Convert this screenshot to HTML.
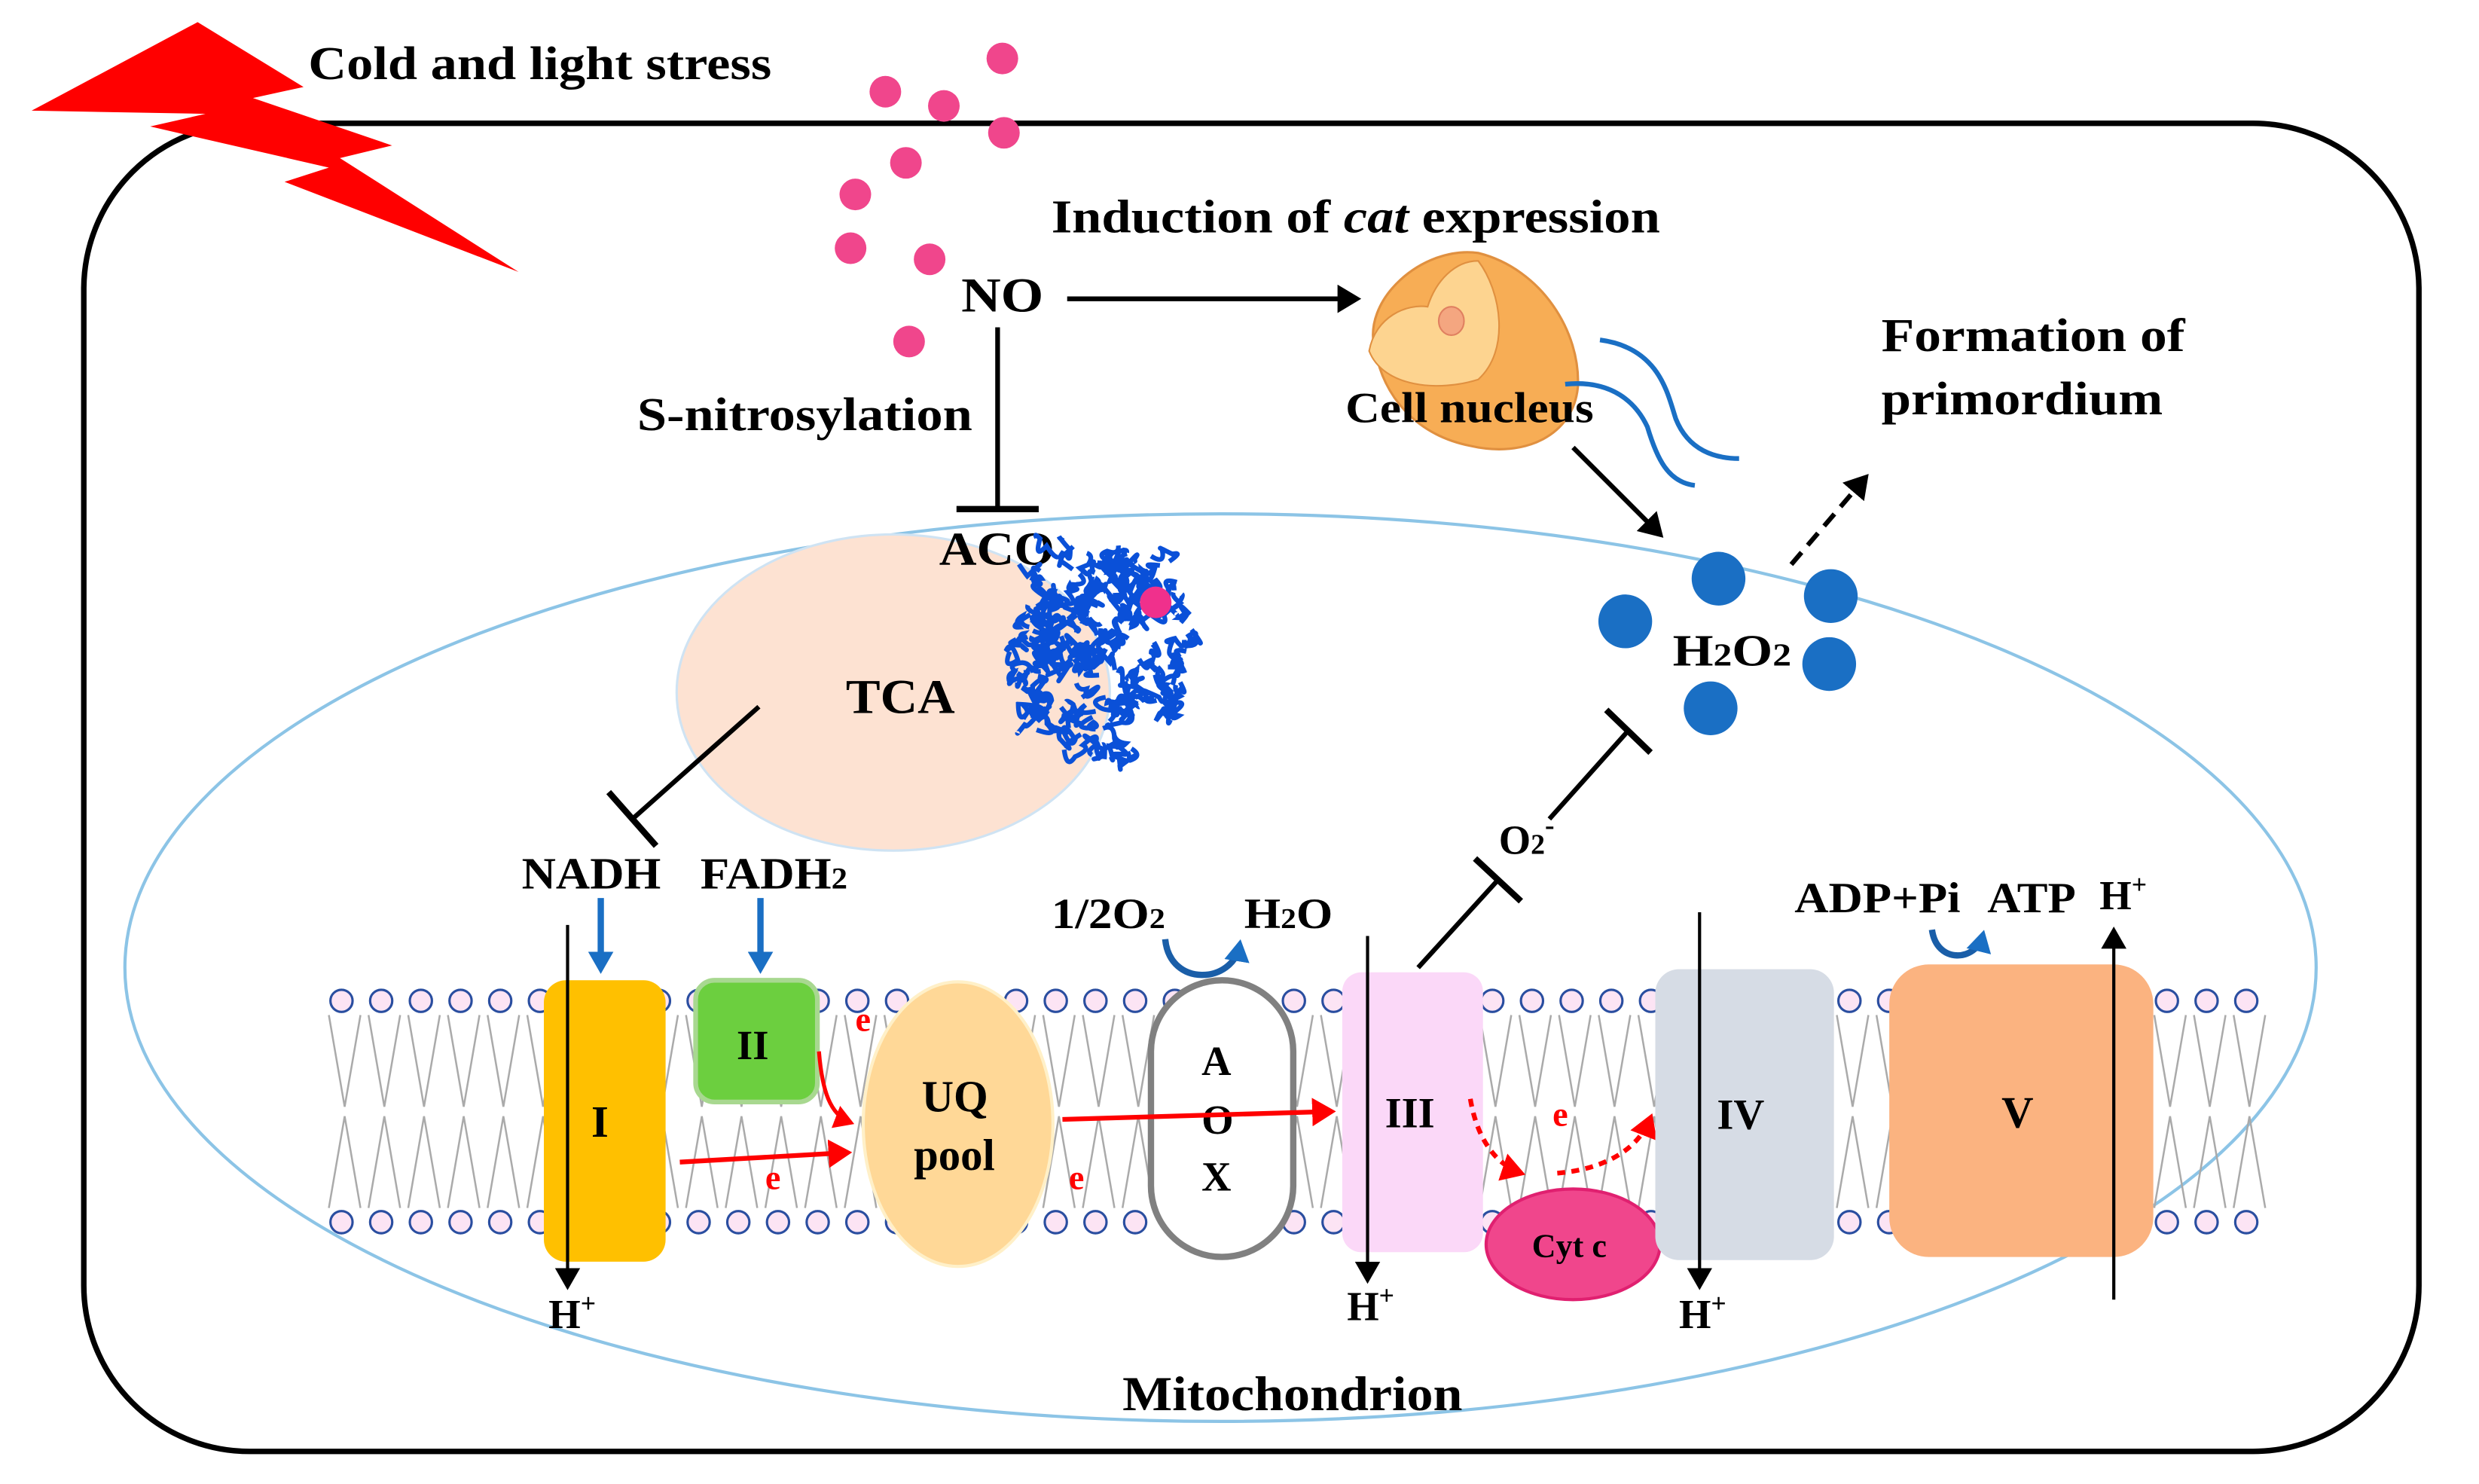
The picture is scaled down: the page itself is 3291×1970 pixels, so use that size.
<!DOCTYPE html>
<html><head><meta charset="utf-8"><style>
html,body{margin:0;padding:0;background:#fff}
svg{display:block}
text{font-family:"Liberation Serif",serif;font-weight:bold;fill:#000}
</style></head><body>
<svg id="s" width="3291" height="1970" viewBox="0 0 1568 938.6" preserveAspectRatio="none" xmlns="http://www.w3.org/2000/svg">
<defs>
<marker id="ab" markerWidth="6" markerHeight="6" refX="4" refY="3" orient="auto" markerUnits="strokeWidth"><path d="M0,0 L5,3 L0,6 Z" fill="#000"/></marker>
<marker id="ar" markerWidth="6" markerHeight="6" refX="4" refY="3" orient="auto" markerUnits="strokeWidth"><path d="M0,0 L5,3 L0,6 Z" fill="#f00"/></marker>
<marker id="abl" markerWidth="4" markerHeight="4" refX="2.5" refY="2" orient="auto" markerUnits="strokeWidth"><path d="M0,0 L3.5,2 L0,4 Z" fill="#1a6fc4"/></marker>
<marker id="at" markerWidth="8" markerHeight="8" refX="5" refY="4" orient="auto" markerUnits="strokeWidth"><path d="M0,0 L7,4 L0,8 Z" fill="#000"/></marker>
</defs>
<rect x="53" y="78" width="1477" height="840" rx="105" fill="none" stroke="#000" stroke-width="3.5"/>
<polygon points="20,70 125,14 192,55 160,62 248,92 215,100 328,172 180,115 208,106 95,80 130,72" fill="#f00"/>
<text x="195" y="50" font-size="30" textLength="293" lengthAdjust="spacingAndGlyphs">Cold and light stress</text>
<g fill="#f0468c">
<circle cx="634" cy="37" r="10"/><circle cx="560" cy="58" r="10"/><circle cx="597" cy="67" r="10"/><circle cx="635" cy="84" r="10"/><circle cx="573" cy="103" r="10"/><circle cx="541" cy="123" r="10"/><circle cx="538" cy="157" r="10"/><circle cx="588" cy="164" r="10"/><circle cx="575" cy="216" r="10"/>
</g>
<ellipse cx="772" cy="612" rx="693" ry="287" fill="none" stroke="#8cc4e6" stroke-width="2"/>
<text x="608" y="197" font-size="31" textLength="52" lengthAdjust="spacingAndGlyphs">NO</text>
<line x1="675" y1="189" x2="858" y2="189" stroke="#000" stroke-width="3" marker-end="url(#ab)"/>
<text x="665" y="147" font-size="30" textLength="385" lengthAdjust="spacingAndGlyphs">Induction of <tspan font-style="italic">cat</tspan> expression</text>
<line x1="631" y1="207" x2="631" y2="322" stroke="#000" stroke-width="3"/>
<line x1="605" y1="322" x2="657" y2="322" stroke="#000" stroke-width="4"/>
<text x="403" y="272" font-size="30" textLength="212" lengthAdjust="spacingAndGlyphs">S-nitrosylation</text>
<!-- nucleus -->
<path d="M870,222 C860,190 900,155 935,160 C975,170 1000,210 998,245 C995,275 965,290 930,282 C895,275 875,250 870,222 Z" fill="#f7ad55" stroke="#e09040" stroke-width="1.5"/>
<path d="M866,222 C870,200 890,192 903,194 C908,178 920,165 935,165 C950,185 955,222 935,240 C910,248 875,245 866,222 Z" fill="#fdd490" stroke="#e09040" stroke-width="1"/>
<ellipse cx="918" cy="203" rx="8" ry="9" fill="#f4a680" stroke="#e08060"/>
<path d="M1012,215 C1050,220 1055,250 1060,265 C1068,285 1085,290 1100,290" fill="none" stroke="#1a6fc4" stroke-width="3"/>
<path d="M990,243 C1020,240 1035,255 1042,270 C1048,290 1055,305 1072,307" fill="none" stroke="#1a6fc4" stroke-width="3"/>
<text x="851" y="267" font-size="27" textLength="157" lengthAdjust="spacingAndGlyphs">Cell nucleus</text>
<line x1="995" y1="283" x2="1050" y2="338" stroke="#000" stroke-width="3" marker-end="url(#ab)"/>
<g fill="#1a6fc4"><circle cx="1028" cy="393" r="17"/><circle cx="1087" cy="366" r="17"/><circle cx="1158" cy="377" r="17"/><circle cx="1157" cy="420" r="17"/><circle cx="1082" cy="448" r="17"/></g>
<text x="1058" y="421" font-size="28" textLength="75" lengthAdjust="spacingAndGlyphs">H<tspan font-size="20">2</tspan>O<tspan font-size="20">2</tspan></text>
<line x1="1133" y1="357" x2="1180" y2="302" stroke="#000" stroke-width="3" stroke-dasharray="10,6" marker-end="url(#ab)"/>
<text x="1190" y="222" font-size="30" textLength="192" lengthAdjust="spacingAndGlyphs">Formation of</text>
<text x="1190" y="262" font-size="30" textLength="178" lengthAdjust="spacingAndGlyphs">primordium</text>
<!-- TCA -->
<ellipse cx="565" cy="438" rx="137" ry="100" fill="#fde2d2" stroke="#cfe3f3" stroke-width="1.5"/>
<text x="594" y="357" font-size="30" textLength="73" lengthAdjust="spacingAndGlyphs">ACO</text>
<text x="535" y="451" font-size="31" textLength="69" lengthAdjust="spacingAndGlyphs">TCA</text>
<g id="prot" fill="none" stroke="#0a50d8" stroke-width="3"></g>
<circle cx="731" cy="381" r="10" fill="#f0308c"/>
<line x1="480" y1="447" x2="400" y2="518" stroke="#000" stroke-width="3"/>
<line x1="385" y1="501" x2="415" y2="535" stroke="#000" stroke-width="4"/>
<text x="330" y="562" font-size="28" textLength="88" lengthAdjust="spacingAndGlyphs">NADH</text>
<text x="443" y="562" font-size="28" textLength="93" lengthAdjust="spacingAndGlyphs">FADH<tspan font-size="19">2</tspan></text>
<g id="mem"></g>
<line x1="380" y1="568" x2="380" y2="612" stroke="#1a6fc4" stroke-width="4" marker-end="url(#abl)"/>
<line x1="481" y1="568" x2="481" y2="612" stroke="#1a6fc4" stroke-width="4" marker-end="url(#abl)"/>
<rect x="344" y="620" width="77" height="178" rx="14" fill="#ffc000"/>
<text x="374" y="719" font-size="28">I</text>
<line x1="359" y1="585" x2="359" y2="812" stroke="#000" stroke-width="2" marker-end="url(#at)"/>
<text x="347" y="840" font-size="26">H<tspan font-size="17" dy="-10">+</tspan></text>
<rect x="440" y="620" width="77" height="77" rx="12" fill="#6ccf3f" stroke="#a8d890" stroke-width="3"/>
<text x="466" y="670" font-size="26">II</text>
<ellipse cx="606" cy="711" rx="60" ry="90" fill="#ffd897" stroke="#fff0c8" stroke-width="2"/>
<text x="583" y="703" font-size="28">UQ</text>
<text x="578" y="740" font-size="28">pool</text>
<rect x="728" y="620" width="90" height="175" rx="45" fill="#fff" stroke="#808080" stroke-width="4"/>
<text x="760" y="680" font-size="26">A</text><text x="760" y="717" font-size="26">O</text><text x="760" y="753" font-size="26">X</text>
<text x="665" y="587" font-size="27" textLength="72" lengthAdjust="spacingAndGlyphs">1/2O<tspan font-size="18">2</tspan></text>
<text x="787" y="587" font-size="27" textLength="56" lengthAdjust="spacingAndGlyphs">H<tspan font-size="18">2</tspan>O</text>
<path d="M737,594 C740,625 780,622 784,598" fill="none" stroke="#1a5ea8" stroke-width="4" marker-end="url(#abl)"/>
<rect x="849" y="615" width="89" height="177" rx="12" fill="#fbd8f8"/>
<text x="876" y="713" font-size="27">III</text>
<line x1="865" y1="592" x2="865" y2="808" stroke="#000" stroke-width="2" marker-end="url(#at)"/>
<text x="852" y="835" font-size="26">H<tspan font-size="17" dy="-10">+</tspan></text>
<text x="948" y="540" font-size="26">O<tspan font-size="18">2</tspan><tspan font-size="18" dy="-12">-</tspan></text>
<line x1="897" y1="612" x2="948" y2="556" stroke="#000" stroke-width="3"/>
<line x1="933" y1="543" x2="962" y2="570" stroke="#000" stroke-width="4"/>
<line x1="980" y1="518" x2="1030" y2="462" stroke="#000" stroke-width="3"/>
<line x1="1016" y1="449" x2="1044" y2="476" stroke="#000" stroke-width="4"/>
<ellipse cx="995" cy="787" rx="55" ry="35" fill="#f0468c" stroke="#e02070" stroke-width="2"/>
<text x="969" y="795" font-size="21">Cyt c</text>
<path d="M930,695 C935,725 950,738 962,742" fill="none" stroke="#f00" stroke-width="3" stroke-dasharray="5,4" marker-end="url(#ar)"/>
<path d="M985,742 C1010,740 1035,730 1044,707" fill="none" stroke="#f00" stroke-width="3" stroke-dasharray="5,4" marker-end="url(#ar)"/>
<rect x="1047" y="613" width="113" height="184" rx="15" fill="#d6dce5"/>
<text x="1086" y="714" font-size="27">IV</text>
<line x1="1075" y1="577" x2="1075" y2="812" stroke="#000" stroke-width="2" marker-end="url(#at)"/>
<text x="1062" y="840" font-size="26">H<tspan font-size="17" dy="-10">+</tspan></text>
<rect x="1195" y="610" width="167" height="185" rx="25" fill="#fbb380"/>
<text x="1266" y="713" font-size="28">V</text>
<line x1="1337" y1="822" x2="1337" y2="590" stroke="#000" stroke-width="2" marker-end="url(#at)"/>
<text x="1328" y="575" font-size="26">H<tspan font-size="17" dy="-10">+</tspan></text>
<text x="1135" y="577" font-size="27" textLength="105" lengthAdjust="spacingAndGlyphs">ADP+Pi</text>
<text x="1257" y="577" font-size="27" textLength="56" lengthAdjust="spacingAndGlyphs">ATP</text>
<path d="M1222,588 C1225,610 1250,608 1254,592" fill="none" stroke="#1a5ea8" stroke-width="4" marker-end="url(#abl)"/>
<line x1="430" y1="735" x2="536" y2="729" stroke="#f00" stroke-width="3" marker-end="url(#ar)"/>
<text x="484" y="752" font-size="22" style="fill:#f00">e</text>
<path d="M518,665 C520,690 525,705 538,710" fill="none" stroke="#f00" stroke-width="2.5" marker-end="url(#ar)"/>
<text x="541" y="652" font-size="22" style="fill:#f00">e</text>
<line x1="672" y1="708" x2="842" y2="703" stroke="#f00" stroke-width="3" marker-end="url(#ar)"/>
<text x="676" y="752" font-size="22" style="fill:#f00">e</text>
<text x="982" y="712" font-size="22" style="fill:#f00">e</text>
<text x="710" y="892" font-size="31" textLength="215" lengthAdjust="spacingAndGlyphs">Mitochondrion</text>
</svg>
<script>
var ns="http://www.w3.org/2000/svg",m=document.getElementById("mem");
function el(t,a){var e=document.createElementNS(ns,t);for(var k in a)e.setAttribute(k,a[k]);m.appendChild(e);return e;}
var d1="",d2="";
for(var x=216;x<=1422;x+=25.1){
 d1+="M"+(x-8)+",642 L"+(x+2)+",700 L"+(x+12)+",642 ";
 d2+="M"+(x-8)+",764 L"+(x+2)+",706 L"+(x+12)+",764 ";
}
el("path",{d:d1+d2,fill:"none",stroke:"#aaa","stroke-width":"1.2"});
for(var x=216;x<=1422;x+=25.1){
 el("ellipse",{cx:x,cy:633,rx:7,ry:7,fill:"#fce4f4",stroke:"#2a4ea0","stroke-width":"1.5"});
 el("ellipse",{cx:x,cy:773,rx:7,ry:7,fill:"#fce4f4",stroke:"#2a4ea0","stroke-width":"1.5"});
}
var p=document.getElementById("prot"),s=7,d="";
function r(){s=(s*9301+49297)%233280;return s/233280;}
for(var i=0;i<200;i++){
 var cx=640+r()*115,cy=340+r()*140;
 if(Math.hypot((cx-698)/58,(cy-410)/70)>1)continue;
 d+="M"+cx+","+cy;
 for(var j=0;j<3;j++){d+=" q"+(r()*20-10)+","+(r()*20-10)+" "+(r()*16-8)+","+(r()*16-8);}
}
var e=document.createElementNS(ns,"path");e.setAttribute("d",d);p.appendChild(e);
</script>
</body></html>
